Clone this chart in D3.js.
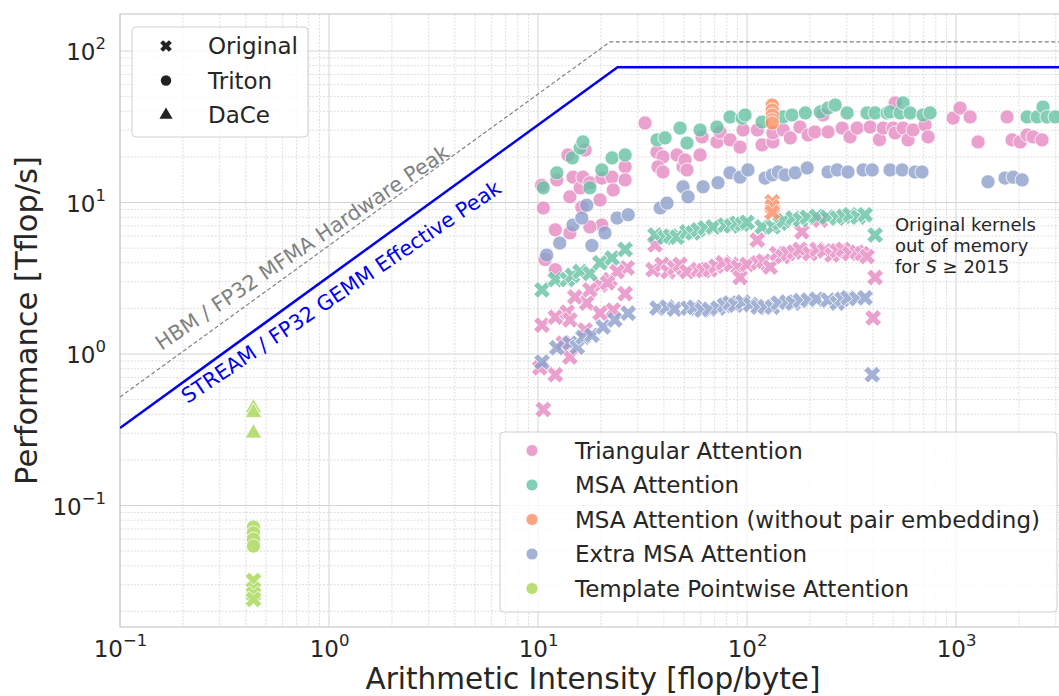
<!DOCTYPE html>
<html>
<head>
<meta charset="utf-8">
<script src="https://cdn.jsdelivr.net/npm/d3@7"></script>
<style>
  body { margin: 0; background: #fff; }
  svg { font-family: "DejaVu Sans", sans-serif; }
</style>
</head>
<body>
<script>
// kernel categories and colours (seaborn Set2)
const kernels = ["Triangular Attention", "MSA Attention", "MSA Attention (without pair embedding)",
                 "Extra MSA Attention", "Template Pointwise Attention"];
const kernelColors = ["#e78ac3", "#66c2a5", "#fc8d62", "#8da0cb", "#a6d854"];
const impls = ["Original", "Triton", "DaCe"];

// roofline parameters [TB/s, Tflop/s]
const streamBW = 3.25, streamPeak = 78;
const hbmBW = 5.2, hbmPeak = 115;

// measurements [arithmetic intensity, Tflop/s]
const triTriton = [
  [10.4,13.0],[10.6,9.2],[12.1,6.6],[10.8,4.2],[12.3,14.1],[13.9,20.6],[14.7,14.7],[14.2,10.9],[15.9,12.5],
  [16.4,14.7],[16.8,22.2],[17.7,13.5],[19.8,10.4],[20.2,14.5],[22.6,14.7],[22.9,12.1],[26.1,17.2],[26.1,14.1],
  [20.2,7.1],[17.7,6.9],[14.2,6.3],[12.1,3.6],[16.2,9.3],
  [32.5,33.5],[37.1,21.5],[39.6,20.0],[37.5,17.2],[39.6,15.9],[46.2,20.6],[49.4,17.2],[50.5,19.1],[51.6,16.4],
  [59.6,20.6],[60.9,27.1],[71.8,25.1],[74.3,29.2],[82.9,25.9],[92.6,23.2],[95.7,30.1],[112,30.1],[118,24.0],
  [133,25.1],[133,28.8],[149,30.1],[161,26.7],[179,31.5],[196,27.9],[211,29.2],[231,37.8],[244,29.2],[285,31.0],
  [311,27.1],[336,31.0],[388,31.5],[430,26.0],[448,31.0],[500,31.0],[511,28.8],[511,45.4],[558,31.0],[589,25.9],
  [623,30.1],[711,32.5],[735,27.1],
  [968,36.1],[1045,42],[1167,36.7],[1274,25.1],[1754,36.7],[1854,25.9],[2025,25.1],[2188,27.9],[2336,27.1],[2577,25.9]
];
const triOriginal = [
  [10.6,0.43],[10.45,1.55],[12.1,1.75],[12.1,0.73],[13.8,1.89],[14.2,1.68],[17.1,2.17],[19.8,2.85],[22.1,3.1],
  [26.7,3.7],[26.1,2.5],[22.9,1.95],[19.8,1.86],[16.8,1.44],[13.2,1.18],[10.2,0.81],[14.2,0.955],[17.7,2.65],
  [15.0,2.38],[23.9,3.5],[21.5,2.95],
  [35.5,3.6],[39.2,3.9],[41.9,3.5],[45,3.7],[47.8,3.9],[51.6,3.5],[58.3,3.6],[62,3.55],[66.5,3.6],[71,3.8],
  [76.8,4.0],[84,3.9],[90.6,3.75],[92.6,3.2],[100,3.9],[113,4.0],[120,4.1],[129,3.75],[139,4.6],[148,4.4],
  [157,4.6],[168,4.7],[179,4.9],[200,4.6],[216,4.9],[235,4.8],[255,4.5],[270,4.8],[288,4.9],[310,4.6],[336,4.7],
  [355,4.6],[375,4.4],[410,3.2],[401,1.73],
  [36.3,5.25],[112,5.65],[183,6.4],[224,7.66]
];
const msaTriton = [
  [10.6,12.5],[12.3,15.7],[14.6,19.7],[15.9,22.9],[16.4,25.1],[17.7,12.5],[20.2,16.4],[22.6,19.7],[26.1,20.6],
  [37.1,25.9],[40.5,26.7],[47.8,31.0],[51.6,24.7],[59.6,30.1],[71.8,31.5],[82.9,36.7],[94.7,36.1],[97.8,37.8],
  [118,34.0],[149,36.7],[164,37.8],[190,39.0],[224,39.6],[244,42.0],[264,44.0],[301,39.0],[375,39.0],[410,39.0],
  [468,39.0],[483,39.6],[540,39.0],[558,45.4],[603,39.0],[695,37.8],[751,39.0],
  [2188,36.7],[2443,36.7],[2606,42.7],[2724,36.7],[2978,36.7]
];
const msaOriginal = [
  [10.45,2.65],[12.1,3.1],[13.8,3.1],[14.6,3.3],[15.9,3.5],[17.7,3.4],[19.8,4.0],[22.6,4.3],[26.1,4.9],
  [36.3,6.1],[40.5,5.9],[43,6.0],[46.2,5.9],[51.6,6.4],[55,6.3],[58.3,6.6],[63,6.8],[68.8,6.9],[78.5,7.1],
  [84,7.0],[89.6,7.3],[95,7.2],[100,7.4],[118,6.9],[133,6.9],[144,7.3],[150,7.6],[166,7.9],[180,7.7],[194,8.0],
  [215,8.1],[242,8.0],[270,7.9],[290,8.1],[311,8.3],[340,8.0],[367,8.3],[410,6.1]
];
const msaNoPairTriton = [[132,44],[132,40.8],[132,37.8],[132,35.1],[132,33.5]];
const msaNoPairOriginal = [[132,10.1],[132,9.4],[132,8.6]];
const extraTriton = [
  [11.0,4.5],[12.7,5.4],[14.7,7.1],[16.2,7.9],[17.1,9.6],[18.1,5.2],[20.9,6.3],[23.9,7.9],[27.0,8.3],
  [38.4,9.2],[41.4,9.9],[49.4,12.7],[52.2,10.9],[61.6,12.7],[72.6,13.5],[82.9,15.7],[92.6,14.7],[101,16.4],
  [122,14.5],[132,15.2],[141,15.9],[152,15.2],[170,15.7],[194,16.9],[244,15.9],[270,16.4],[304,15.9],[359,16.4],
  [397,16.4],[483,16.4],[552,16.4],[637,15.9],[687,15.9],
  [1422,13.7],[1715,14.5],[1875,14.7],[2070,14.1]
];
const extraOriginal = [
  [10.45,0.885],[12.3,1.10],[14.2,1.18],[15.4,1.11],[16.4,1.29],[18.1,1.33],[20.5,1.51],[23.3,1.68],[27.0,1.86],
  [37.1,2.01],[41.4,2.04],[45,1.98],[52.2,2.01],[56,2.03],[60.9,1.95],[66,1.97],[72.6,2.01],[78,2.1],[82.9,2.17],
  [88,2.1],[95.7,2.2],[104,2.12],[113,2.04],[122,2.05],[132,2.04],[141,2.17],[155,2.2],[166,2.17],[180,2.25],
  [196,2.27],[215,2.3],[244,2.27],[270,2.17],[285,2.3],[304,2.35],[335,2.32],[367,2.35],[397,0.73]
];
const tplTriton = [[0.435,0.072],[0.435,0.066],[0.435,0.060],[0.435,0.054]];
const tplDace = [[0.435,0.44],[0.435,0.41],[0.435,0.30]];
const tplOriginal = [[0.435,0.032],[0.435,0.028],[0.435,0.026],[0.435,0.024]];

// drawing order of the groups: [kernel index, implementation, points]
const groups = [
  [0, "Triton", triTriton], [0, "Original", triOriginal],
  [1, "Triton", msaTriton], [1, "Original", msaOriginal],
  [2, "Triton", msaNoPairTriton], [2, "Original", msaNoPairOriginal],
  [3, "Triton", extraTriton], [3, "Original", extraOriginal],
  [4, "Triton", tplTriton], [4, "Original", tplOriginal], [4, "DaCe", tplDace]
];

const xMajor = [0.1, 1, 10, 100, 1000];
const yMajor = [0.1, 1, 10, 100];

const W = 1059, H = 696;
const plot = {left: 120, right: 1065, top: 14, bottom: 627};

const svg = d3.select("body").append("svg").attr("width", W).attr("height", H);

const x = d3.scaleLog().domain([0.1, 3320]).range([plot.left, plot.right]);
const y = d3.scaleLog().domain([0.01578, 175.5]).range([plot.bottom, plot.top]);

const isDecade = v => Math.abs(Math.log10(v) - Math.round(Math.log10(v))) < 1e-9;

svg.append("defs").append("clipPath").attr("id", "clip")
   .append("rect").attr("x", plot.left).attr("y", plot.top)
   .attr("width", plot.right - plot.left).attr("height", plot.bottom - plot.top);

// grid
const grid = svg.append("g");
grid.selectAll(".xminor").data(x.ticks().filter(v => !isDecade(v))).enter().append("line")
    .attr("x1", d => x(d)).attr("x2", d => x(d)).attr("y1", plot.top).attr("y2", plot.bottom)
    .attr("stroke", "#d6d6d6").attr("stroke-width", 0.8).attr("stroke-dasharray", "2,1.5");
grid.selectAll(".yminor").data(y.ticks().filter(v => !isDecade(v))).enter().append("line")
    .attr("y1", d => y(d)).attr("y2", d => y(d)).attr("x1", plot.left).attr("x2", plot.right)
    .attr("stroke", "#d6d6d6").attr("stroke-width", 0.8).attr("stroke-dasharray", "2,1.5");
grid.selectAll(".xmajor").data(xMajor).enter().append("line")
    .attr("x1", d => x(d)).attr("x2", d => x(d)).attr("y1", plot.top).attr("y2", plot.bottom)
    .attr("stroke", "#d4d4d4").attr("stroke-width", 1);
grid.selectAll(".ymajor").data(yMajor).enter().append("line")
    .attr("y1", d => y(d)).attr("y2", d => y(d)).attr("x1", plot.left).attr("x2", plot.right)
    .attr("stroke", "#d4d4d4").attr("stroke-width", 1);

// frame
svg.append("rect").attr("x", plot.left).attr("y", plot.top)
   .attr("width", plot.right - plot.left).attr("height", plot.bottom - plot.top)
   .attr("fill", "none").attr("stroke", "#cccccc").attr("stroke-width", 1.25);

// tick labels like 10^n
function supText(d) {
  const e = Math.round(Math.log10(d));
  const t = d3.select(this);
  t.text(null).attr("fill", "#262626").style("font-size", "23px");
  t.append("tspan").text("10");
  t.append("tspan").attr("dy", -11).style("font-size", "16.5px").text(e < 0 ? "\u2212" + (-e) : e);
}

svg.append("g").attr("transform", `translate(0,${plot.bottom})`)
   .call(d3.axisBottom(x).tickValues(xMajor).tickSize(0).tickPadding(0).tickFormat(""))
   .call(g => {
     g.attr("font-family", null).attr("font-size", null);
     g.select(".domain").remove();
     g.selectAll(".tick text").attr("y", 30).attr("dy", null).each(supText);
   });

svg.append("g").attr("transform", `translate(${plot.left},0)`)
   .call(d3.axisLeft(y).tickValues(yMajor).tickSize(0).tickPadding(0).tickFormat(""))
   .call(g => {
     g.attr("font-family", null).attr("font-size", null);
     g.select(".domain").remove();
     g.selectAll(".tick text").attr("x", -14).attr("y", 8.5).attr("dy", null).each(supText);
   });

// axis titles
svg.append("text").attr("x", 593).attr("y", 689).attr("text-anchor", "middle")
   .attr("fill", "#262626").style("font-size", "29.5px").text("Arithmetic Intensity [flop/byte]");
svg.append("text").attr("transform", `translate(36.5,${(plot.top + plot.bottom) / 2}) rotate(-90)`)
   .attr("text-anchor", "middle").attr("fill", "#262626").style("font-size", "30.5px")
   .text("Performance [Tflop/s]");

const area = svg.append("g").attr("clip-path", "url(#clip)");

// rooflines
const line = d3.line().x(d => x(d[0])).y(d => y(d[1]));
const xEnd = x.domain()[1];
area.append("path")
    .attr("d", line([[0.1, hbmBW * 0.1], [hbmPeak / hbmBW, hbmPeak], [xEnd, hbmPeak]]))
    .attr("fill", "none").attr("stroke", "#808080").attr("stroke-width", 1.2).attr("stroke-dasharray", "4,2.5");
area.append("path")
    .attr("d", line([[0.1, streamBW * 0.1], [streamPeak / streamBW, streamPeak], [xEnd, streamPeak]]))
    .attr("fill", "none").attr("stroke", "#0000ee").attr("stroke-width", 2.5);

svg.append("text").attr("transform", `translate(${x(0.158)},${y(1.047)}) rotate(-34)`)
   .attr("fill", "#808080").style("font-size", "20.7px").text("HBM / FP32 MFMA Hardware Peak");
svg.append("text").attr("transform", `translate(${x(0.2106)},${y(0.4677)}) rotate(-34)`)
   .attr("fill", "#0000ee").style("font-size", "20.7px").text("STREAM / FP32 GEMM Effective Peak");

// markers
const symX = d3.symbol(d3.symbolCross, 175)();
const symTri = d3.symbol(d3.symbolTriangle, 120)();

groups.forEach(([k, impl, pts]) => {
  const g = area.append("g").attr("fill", kernelColors[k]).attr("stroke", "#fff")
                .attr("stroke-width", 0.8).attr("opacity", 0.8);
  if (impl === "Triton") {
    g.selectAll("circle").data(pts).enter().append("circle")
     .attr("cx", d => x(d[0])).attr("cy", d => y(d[1])).attr("r", 7.1);
  } else {
    g.selectAll("path").data(pts).enter().append("path")
     .attr("d", impl === "Original" ? symX : symTri)
     .attr("transform", d => `translate(${x(d[0])},${y(d[1])})` + (impl === "Original" ? " rotate(45)" : ""));
  }
});

// annotation
const note = svg.append("text").attr("x", x(510)).attr("y", y(6.5))
                .attr("fill", "#262626").style("font-size", "18px");
note.append("tspan").attr("x", x(510)).text("Original kernels");
note.append("tspan").attr("x", x(510)).attr("dy", 21).text("out of memory");
const l3 = note.append("tspan").attr("x", x(510)).attr("dy", 21);
l3.append("tspan").text("for ");
l3.append("tspan").style("font-style", "italic").text("S");
l3.append("tspan").text(" \u2265 2015");

// legend: implementations
const leg1 = svg.append("g");
leg1.append("rect").attr("x", 132).attr("y", 27).attr("width", 176).attr("height", 110).attr("rx", 4)
    .attr("fill", "#fff").attr("fill-opacity", 0.8).attr("stroke", "#d0d0d0");
const legSyms = {
  Original: d3.symbol(d3.symbolCross, 85)(),
  Triton: d3.symbol(d3.symbolCircle, 85)(),
  DaCe: d3.symbol(d3.symbolTriangle, 75)()
};
impls.forEach((name, i) => {
  const cy = 46 + i * 34.5;
  leg1.append("path").attr("d", legSyms[name]).attr("fill", "#222")
      .attr("transform", `translate(166,${cy})` + (name === "Original" ? " rotate(45)" : ""));
  leg1.append("text").attr("x", 208).attr("y", cy + 8.3).attr("fill", "#262626")
      .style("font-size", "23px").text(name);
});

// legend: kernels
const leg2 = svg.append("g");
leg2.append("rect").attr("x", 500).attr("y", 432).attr("width", 557).attr("height", 180).attr("rx", 4)
    .attr("fill", "#fff").attr("fill-opacity", 0.8).attr("stroke", "#d0d0d0");
kernels.forEach((name, i) => {
  const cy = 450.5 + i * 34.5;
  leg2.append("circle").attr("cx", 532).attr("cy", cy).attr("r", 6).attr("fill", kernelColors[i])
      .attr("opacity", 0.8).attr("stroke", "#fff").attr("stroke-width", 0.8);
  leg2.append("text").attr("x", 575).attr("y", cy + 8.3).attr("fill", "#262626")
      .style("font-size", "23px").text(name);
});
</script>
</body>
</html>
